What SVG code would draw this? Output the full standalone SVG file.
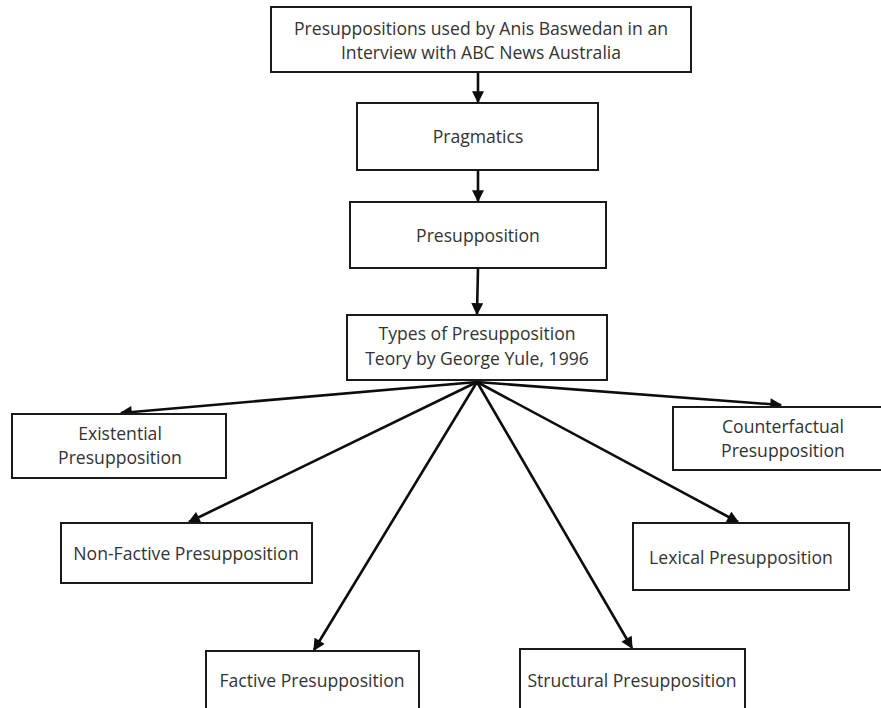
<svg xmlns="http://www.w3.org/2000/svg" width="881" height="708" viewBox="0 0 881 708">
<style>
  .box { fill: #ffffff; stroke: #1a1a1a; stroke-width: 2; }
  .lbl { font-family: "Open Sans", "Noto Sans", "Liberation Sans", sans-serif; font-size: 17.6px; fill: #333333; text-anchor: middle; }
  .con { stroke: #0d0d0d; stroke-width: 2.6; fill: none; marker-end: url(#arr); }
</style>
<defs>
  <marker id="arr" viewBox="0 0 10 10" refX="9" refY="5" markerWidth="5" markerHeight="4.6" orient="auto">
    <path d="M0,0 L10,5 L0,10 z" fill="#0d0d0d"/>
  </marker>
</defs>
<rect x="0" y="0" width="881" height="708" fill="#ffffff"/>

<g id="connectors">
  <line class="con" x1="478" y1="72" x2="478" y2="102"/>
  <line class="con" x1="478" y1="170" x2="478" y2="201"/>
  <line class="con" x1="478" y1="268" x2="477" y2="314"/>
  <line class="con" x1="477" y1="382" x2="121" y2="413"/>
  <line class="con" x1="477" y1="382" x2="189" y2="522"/>
  <line class="con" x1="477" y1="382" x2="314" y2="650"/>
  <line class="con" x1="477" y1="382" x2="632" y2="648"/>
  <line class="con" x1="477" y1="382" x2="738" y2="522"/>
  <line class="con" x1="477" y1="382" x2="781" y2="405"/>
</g>

<g id="node-top">
  <rect class="box" x="271" y="7" width="420" height="65"/>
  <text class="lbl" x="481" y="35">Presuppositions used by Anis Baswedan in an</text>
  <text class="lbl" x="481" y="59">Interview with ABC News Australia</text>
</g>

<g id="node-pragmatics">
  <rect class="box" x="357" y="103" width="241" height="67"/>
  <text class="lbl" x="478" y="143">Pragmatics</text>
</g>

<g id="node-presupposition">
  <rect class="box" x="350" y="202" width="256" height="66"/>
  <text class="lbl" x="478" y="242">Presupposition</text>
</g>

<g id="node-types">
  <rect class="box" x="347" y="315" width="260" height="65"/>
  <text class="lbl" x="477" y="340">Types of Presupposition</text>
  <text class="lbl" x="477" y="365">Teory by George Yule, 1996</text>
</g>

<g id="node-existential">
  <rect class="box" x="12" y="414" width="214" height="64"/>
  <text class="lbl" x="120" y="440">Existential</text>
  <text class="lbl" x="120" y="464">Presupposition</text>
</g>

<g id="node-counterfactual">
  <rect class="box" x="673" y="407" width="220" height="63"/>
  <text class="lbl" x="783" y="433">Counterfactual</text>
  <text class="lbl" x="783" y="457">Presupposition</text>
</g>

<g id="node-nonfactive">
  <rect class="box" x="61" y="523" width="251" height="60"/>
  <text class="lbl" x="186" y="560">Non-Factive Presupposition</text>
</g>

<g id="node-lexical">
  <rect class="box" x="633" y="523" width="216" height="67"/>
  <text class="lbl" x="741" y="564">Lexical Presupposition</text>
</g>

<g id="node-factive">
  <rect class="box" x="206" y="651" width="213" height="70"/>
  <text class="lbl" x="312" y="687">Factive Presupposition</text>
</g>

<g id="node-structural">
  <rect class="box" x="520" y="649" width="225" height="72"/>
  <text class="lbl" x="632" y="687">Structural Presupposition</text>
</g>
</svg>
